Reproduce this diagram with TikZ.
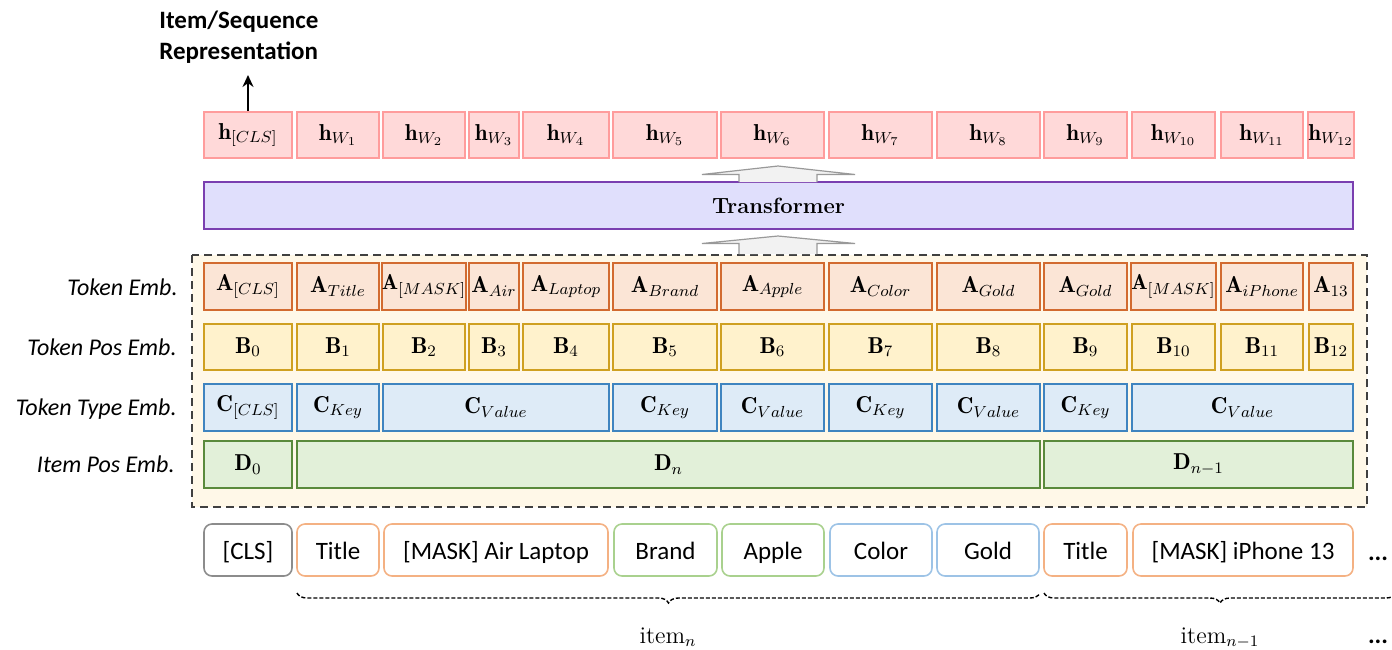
\documentclass[tikz,border=0pt]{standalone}
\usepackage{fontspec}
\newfontfamily\carl{Carlito}
\usetikzlibrary{arrows.meta,decorations.pathreplacing}
\definecolor{hline}{HTML}{FF9C9C}
\definecolor{hfill}{HTML}{FFD9D9}
\definecolor{aline}{HTML}{D26B30}
\definecolor{afill}{HTML}{FBE5D6}
\definecolor{bline}{HTML}{CFA021}
\definecolor{bfill}{HTML}{FFF2CC}
\definecolor{cline}{HTML}{3F84C0}
\definecolor{cfill}{HTML}{DEEBF7}
\definecolor{dline}{HTML}{5A8A3C}
\definecolor{dfill}{HTML}{E2F0D9}
\definecolor{tline}{HTML}{7A3FB0}
\definecolor{tfill}{HTML}{E0DFFC}
\definecolor{cream}{HTML}{FFF8E8}
\definecolor{inorange}{HTML}{F4B183}
\definecolor{ingreen}{HTML}{A9D18E}
\definecolor{inblue}{HTML}{9DC3E6}
\definecolor{ingray}{HTML}{8C8C8C}
\newcommand\cell[7]{\node[#6, minimum width={(#3-#2)*0.5pt}, minimum height={(#5-#4)*0.5pt}] (#1) at ({(#2+#3)/2},{(#4+#5)/2}) {#7};}
\begin{document}
\begin{tikzpicture}[x=0.5pt,y=-0.5pt,
  cellbase/.style={draw, line width=1pt, inner sep=0pt, font=\fontsize{11.5}{13}\selectfont},
  hbox/.style={cellbase, draw=hline, fill=hfill},
  abox/.style={cellbase, draw=aline, fill=afill},
  narrowtext/.style={font=\fontsize{10.8}{13}\selectfont},
  bbox/.style={cellbase, draw=bline, fill=bfill},
  cbox/.style={cellbase, draw=cline, fill=cfill},
  dbox/.style={cellbase, draw=dline, fill=dfill},
  tbox/.style={draw=tline, fill=tfill, line width=1pt, inner sep=0pt, font=\fontsize{11}{13}\selectfont\bfseries},
  inbox/.style={draw, rounded corners=4pt, line width=0.8pt, inner sep=0pt, text height=9pt, text depth=0pt, font=\carl\fontsize{12.5}{15}\selectfont},
  lab/.style={inner sep=0pt, font=\carl\itshape\fontsize{12}{14}\selectfont},
  hollow/.style={draw=gray!80, fill=gray!10, line width=0.6pt, line join=miter},
  brc/.style={decorate, decoration={brace, mirror, amplitude=5pt}, line width=0.7pt, dash pattern=on 2pt off 1pt},
  arr/.style={-{Stealth[length=6pt,width=5.5pt]}, line width=1pt}
]
\useasboundingbox (0,0) rectangle (1392,649);
% dashed embedding frame
\draw[draw=black!75, fill=cream, line width=1.1pt, dash pattern=on 4pt off 2.5pt] (192,255) rectangle (1367,507);

% top label
\node[inner sep=0pt, anchor=west, align=left, font=\carl\bfseries\fontsize{12.5}{15.5}\selectfont] (lbl) at (159,37) {Item/Sequence\\Representation};

% h row
\cell{h0}{204}{292}{112}{158}{hbox}{$\mathbf{h}_{[CLS]}$}
\cell{h1}{297}{379}{112}{158}{hbox}{$\mathbf{h}_{W_1}$}
\cell{h2}{383}{465}{112}{158}{hbox}{$\mathbf{h}_{W_2}$}
\cell{h3}{469}{519}{112}{158}{hbox}{$\mathbf{h}_{W_3}$}
\cell{h4}{523}{609}{112}{158}{hbox}{$\mathbf{h}_{W_4}$}
\cell{h5}{613}{717}{112}{158}{hbox}{$\mathbf{h}_{W_5}$}
\cell{h6}{721}{824}{112}{158}{hbox}{$\mathbf{h}_{W_6}$}
\cell{h7}{829}{932}{112}{158}{hbox}{$\mathbf{h}_{W_7}$}
\cell{h8}{937}{1040}{112}{158}{hbox}{$\mathbf{h}_{W_8}$}
\cell{h9}{1044}{1127}{112}{158}{hbox}{$\mathbf{h}_{W_9}$}
\cell{h10}{1132}{1215}{112}{158}{hbox}{$\mathbf{h}_{W_{10}}$}
\cell{h11}{1221}{1303}{112}{158}{hbox}{$\mathbf{h}_{W_{11}}$}
\cell{h12}{1309}{1353}{112}{158}{hbox}{$\mathbf{h}_{W_{12}}$}

\coordinate (tip) at (248,75);
\draw[arr] (h0.north) -- (tip);

% transformer
\cell{tr}{204}{1353}{182}{229}{tbox}{Transformer}

% hollow arrows
\draw[hollow] (739,182) -- (739,174.5) -- (702,174.5) -- (778,166) -- (855,174.5) -- (817,174.5) -- (817,182);
\draw[hollow] (739,254) -- (739,243.5) -- (702,243.5) -- (778,236) -- (855,243.5) -- (817,243.5) -- (817,254);

% labels
\node[lab, anchor=base east] (lA) at (178,295) {Token Emb.};
\node[lab, anchor=base east] (lB) at (177,355) {Token Pos Emb.};
\node[lab, anchor=base east] (lC) at (177,415) {Token Type Emb.};
\node[lab, anchor=base east] (lD) at (175,472) {Item Pos Emb.};

% A row
\cell{a0}{204}{292}{263}{310}{abox}{$\mathbf{A}_{[CLS]}$}
\cell{a1}{297}{379}{263}{310}{abox}{$\mathbf{A}_{Title}$}
\cell{a2}{383}{465}{263}{310}{abox, narrowtext}{$\mathbf{A}_{[MASK]}$}
\cell{a3}{469}{519}{263}{310}{abox}{$\mathbf{A}_{Air}$}
\cell{a4}{523}{609}{263}{310}{abox}{$\mathbf{A}_{Laptop}$}
\cell{a5}{613}{717}{263}{310}{abox}{$\mathbf{A}_{Brand}$}
\cell{a6}{721}{824}{263}{310}{abox}{$\mathbf{A}_{Apple}$}
\cell{a7}{829}{932}{263}{310}{abox}{$\mathbf{A}_{Color}$}
\cell{a8}{937}{1040}{263}{310}{abox}{$\mathbf{A}_{Gold}$}
\cell{a9}{1044}{1127}{263}{310}{abox}{$\mathbf{A}_{Gold}$}
\cell{a10}{1132}{1215}{263}{310}{abox, narrowtext}{$\mathbf{A}_{[MASK]}$}
\cell{a11}{1221}{1303}{263}{310}{abox}{$\mathbf{A}_{iPhone}$}
\cell{a12}{1309}{1353}{263}{310}{abox}{$\mathbf{A}_{13}$}

% B row
\cell{b0}{204}{292}{324}{370}{bbox}{$\mathbf{B}_{0}$}
\cell{b1}{297}{379}{324}{370}{bbox}{$\mathbf{B}_{1}$}
\cell{b2}{383}{465}{324}{370}{bbox}{$\mathbf{B}_{2}$}
\cell{b3}{469}{519}{324}{370}{bbox}{$\mathbf{B}_{3}$}
\cell{b4}{523}{609}{324}{370}{bbox}{$\mathbf{B}_{4}$}
\cell{b5}{613}{717}{324}{370}{bbox}{$\mathbf{B}_{5}$}
\cell{b6}{721}{824}{324}{370}{bbox}{$\mathbf{B}_{6}$}
\cell{b7}{829}{932}{324}{370}{bbox}{$\mathbf{B}_{7}$}
\cell{b8}{937}{1040}{324}{370}{bbox}{$\mathbf{B}_{8}$}
\cell{b9}{1044}{1127}{324}{370}{bbox}{$\mathbf{B}_{9}$}
\cell{b10}{1132}{1215}{324}{370}{bbox}{$\mathbf{B}_{10}$}
\cell{b11}{1221}{1303}{324}{370}{bbox}{$\mathbf{B}_{11}$}
\cell{b12}{1309}{1353}{324}{370}{bbox}{$\mathbf{B}_{12}$}

% C row
\cell{c0}{204}{292}{384}{431}{cbox}{$\mathbf{C}_{[CLS]}$}
\cell{c1}{297}{379}{384}{431}{cbox}{$\mathbf{C}_{Key}$}
\cell{c2}{383}{609}{384}{431}{cbox}{$\mathbf{C}_{Value}$}
\cell{c3}{613}{717}{384}{431}{cbox}{$\mathbf{C}_{Key}$}
\cell{c4}{721}{824}{384}{431}{cbox}{$\mathbf{C}_{Value}$}
\cell{c5}{829}{932}{384}{431}{cbox}{$\mathbf{C}_{Key}$}
\cell{c6}{937}{1040}{384}{431}{cbox}{$\mathbf{C}_{Value}$}
\cell{c7}{1044}{1127}{384}{431}{cbox}{$\mathbf{C}_{Key}$}
\cell{c8}{1132}{1353}{384}{431}{cbox}{$\mathbf{C}_{Value}$}

% D row
\cell{d0}{204}{292}{441}{488}{dbox}{$\mathbf{D}_{0}$}
\cell{d1}{297}{1040}{441}{488}{dbox}{$\mathbf{D}_{n}$}
\cell{d2}{1044}{1353}{441}{488}{dbox}{$\mathbf{D}_{n-1}$}

% inputs
\cell{i0}{204}{292}{524}{576}{inbox, draw=ingray}{[CLS]}
\cell{i1}{297}{379}{524}{576}{inbox, draw=inorange}{Title}
\cell{i2}{384}{608}{524}{576}{inbox, draw=inorange}{[MASK] Air Laptop}
\cell{i3}{614}{717}{524}{576}{inbox, draw=ingreen}{Brand}
\cell{i4}{722}{824}{524}{576}{inbox, draw=ingreen}{Apple}
\cell{i5}{830}{932}{524}{576}{inbox, draw=inblue}{Color}
\cell{i6}{937}{1039}{524}{576}{inbox, draw=inblue}{Gold}
\cell{i7}{1044}{1127}{524}{576}{inbox, draw=inorange}{Title}
\cell{i8}{1133}{1353}{524}{576}{inbox, draw=inorange}{[MASK] iPhone 13}
\node[inner sep=0pt, anchor=base, font=\carl\bfseries\fontsize{12.5}{15}\selectfont] (dots1) at (1378,560) {...};

% braces
\coordinate (b1s) at (297,593);
\coordinate (b1e) at (1040,593);
\coordinate (b2s) at (1044,593);
\coordinate (b2e) at (1396,593);
\draw[brc] (b1s) -- (b1e);
\draw[brc] (b2s) -- (b2e);
\node[inner sep=0pt, anchor=base, font=\fontsize{12}{14}\selectfont] (itn) at (668,643) {$\mathrm{item}_{n}$};
\node[inner sep=0pt, anchor=base, font=\fontsize{12}{14}\selectfont] (itm) at (1220,643) {$\mathrm{item}_{n-1}$};
\node[inner sep=0pt, anchor=base, font=\carl\bfseries\fontsize{12.5}{15}\selectfont] (dots2) at (1378,643) {...};
\end{tikzpicture}
\end{document}
